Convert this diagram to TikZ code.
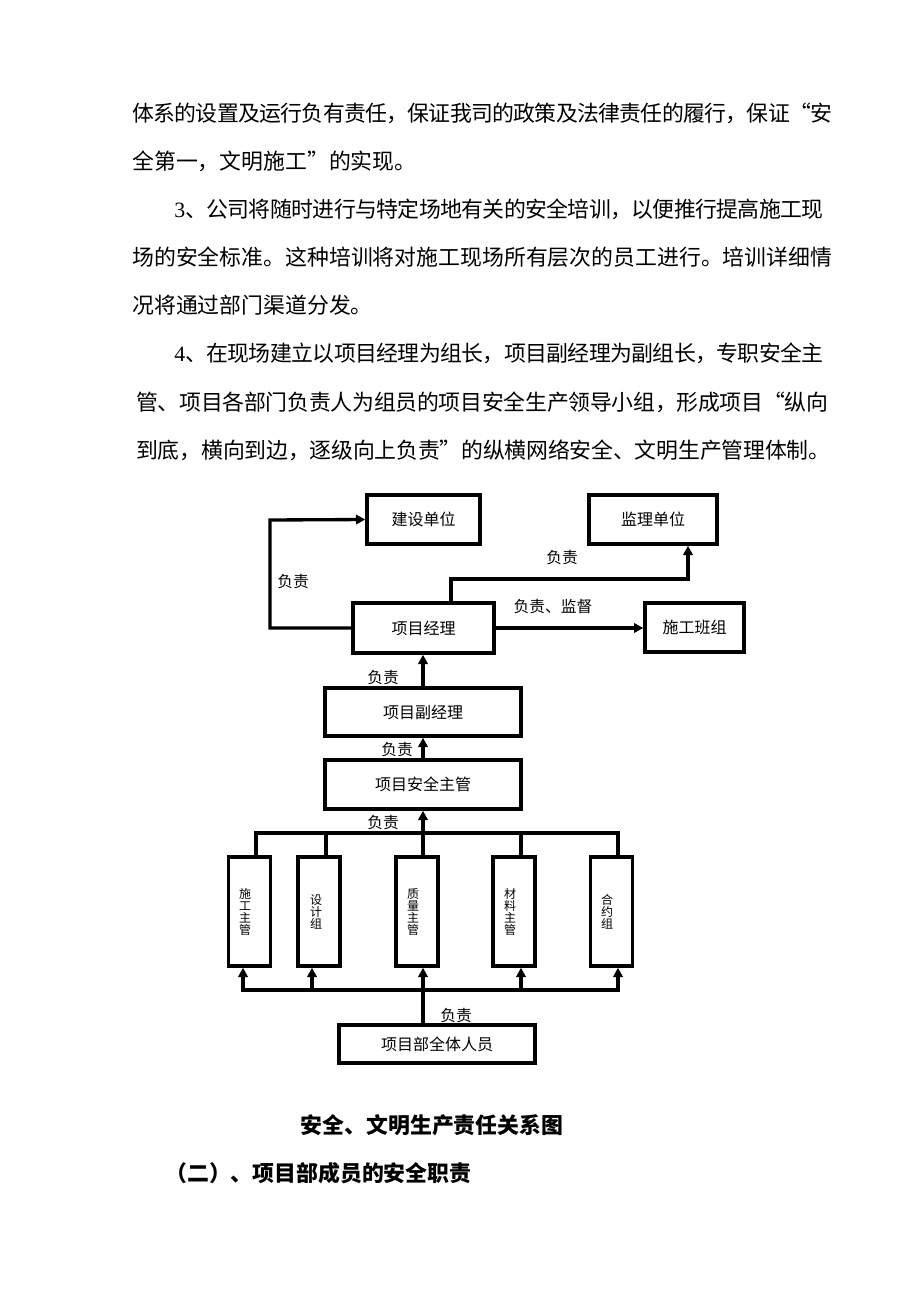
\documentclass[tikz,border=0pt]{standalone}
\usepackage{fontspec}
\setmainfont{Liberation Serif}
\newfontfamily\cjk{Noto Sans CJK SC}
\usetikzlibrary{arrows.meta}
\newcommand\cjkglue{\hskip0pt plus 3pt minus 3pt\relax}
\newcount\cjkcc
\cjkcc="4E00
\loop \XeTeXcharclass\cjkcc=1 \advance\cjkcc by 1 \ifnum\cjkcc<"A000 \repeat
\cjkcc="3000
\loop \XeTeXcharclass\cjkcc=1 \advance\cjkcc by 1 \ifnum\cjkcc<"3040 \repeat
\cjkcc="FF00
\loop \XeTeXcharclass\cjkcc=1 \advance\cjkcc by 1 \ifnum\cjkcc<"FF60 \repeat
\XeTeXcharclass"201C=1
\XeTeXcharclass"201D=1
\XeTeXinterchartokenstate=1
\XeTeXinterchartoks 1 1 {\cjkglue}
\XeTeXinterchartoks 0 1 {\cjkglue}
\XeTeXinterchartoks 1 0 {\cjkglue}
\tikzset{
  txt/.style={anchor=west, inner sep=0pt, font=\cjk\fontsize{16.4}{20}\selectfont},
  ttl/.style={inner sep=0pt, font=\cjk\bfseries\fontsize{16.4}{20}\selectfont},
  box/.style={draw, line width=2.5pt, inner sep=0pt, font=\cjk\fontsize{12}{14}\selectfont},
  vbox/.style={draw, line width=2.5pt, inner sep=0pt, minimum width=31.5pt, minimum height=81.75pt},
  vtxt/.style={inner sep=0pt, align=center, font=\cjk\fontsize{9}{9}\selectfont},
  lbl/.style={inner sep=0pt, font=\cjk\fontsize{11.8}{14}\selectfont},
  ln/.style={line width=2.5pt},
  tip/.tip={Triangle[length=7pt,width=7pt]},
  arr/.style={line width=2.5pt, -tip},
}
\begin{document}
\begin{tikzpicture}[x=0.75pt,y=-0.75pt]
\useasboundingbox (0,0) rectangle (920,1302);
\fill[white] (0,0) rectangle (920,1302);

% body text
\node[txt] (l1) at (132,113) {\makebox[525pt][s]{体系的设置及运行负有责任，保证我司的政策及法律责任的履行，保证“安}};
\node[txt] (l2) at (132,161) {全第一，文明施工”的实现。};
\node[txt] (l3) at (174,209) {\makebox[487pt][s]{{\rmfamily 3}、公司将随时进行与特定场地有关的安全培训，以便推行提高施工现}};
\node[txt] (l4) at (132,257) {\makebox[525pt][s]{场的安全标准。这种培训将对施工现场所有层次的员工进行。培训详细情}};
\node[txt] (l5) at (132,305) {况将通过部门渠道分发。};
\node[txt] (l6) at (174,353) {\makebox[487pt][s]{{\rmfamily 4}、在现场建立以项目经理为组长，项目副经理为副组长，专职安全主}};
\node[txt] (l7) at (136,402) {\makebox[519pt][s]{管、项目各部门负责人为组员的项目安全生产领导小组，形成项目“纵向}};
\node[txt] (l8) at (136,450) {\makebox[520.5pt][s]{到底，横向到边，逐级向上负责”的纵横网络安全、文明生产管理体制。}};

% boxes
\node[box, minimum width=84.75pt, minimum height=36.75pt] (jsdw) at (423.5,519.5) {建设单位};
\node[box, minimum width=96pt, minimum height=36.75pt] (jldw) at (653,519.5) {监理单位};
\node[box, minimum width=105.75pt, minimum height=37.5pt] (xmjl) at (423.5,628) {项目经理};
\node[box, minimum width=74.25pt, minimum height=36.75pt] (sgbz) at (694.5,627.5) {施工班组};
\node[box, minimum width=147pt, minimum height=36pt] (fjl) at (423,712) {项目副经理};
\node[box, minimum width=147pt, minimum height=36.75pt] (aqzg) at (423,784.5) {项目安全主管};
\node[box, minimum width=147pt, minimum height=28.5pt] (qtry) at (437,1044) {项目部全体人员};

\node[vbox] (v1) at (249.5,911.5) {};
\node[vbox] (v2) at (319,911.5) {};
\node[vbox] (v3) at (417,911.5) {};
\node[vbox] (v4) at (514,911.5) {};
\node[vbox] (v5) at (611.5,911.5) {};
\node[vtxt] (t1) at (245,911.5) {施\\工\\主\\管};
\node[vtxt] (t2) at (316,911.5) {设\\计\\组};
\node[vtxt] (t3) at (413,911.5) {质\\量\\主\\管};
\node[vtxt] (t4) at (510,911.5) {材\\料\\主\\管};
\node[vtxt] (t5) at (607,911.5) {合\\约\\组};

% connectors
\coordinate (k1) at (270,520);
\draw[arr] (xmjl.west) -| (k1) -- (jsdw.west);
\coordinate (k2) at (451,579);
\coordinate (k3) at (688,579);
\draw[arr] (k2 |- xmjl.north) -- (k2) -- (k3) -- (k3 |- jldw.south);
\draw[arr] (xmjl.east) -- (xmjl.east -| sgbz.west);
\draw[arr] (fjl.north) -- (fjl.north |- xmjl.south);
\draw[arr] (aqzg.north) -- (fjl.south);

\coordinate (tL) at (256,833);
\coordinate (t2c) at (326,833);
\coordinate (t3c) at (423,833);
\coordinate (t4c) at (521,833);
\coordinate (tR) at (618,833);
\draw[ln] (tL |- v1.north) -- (tL) -- (tR) -- (tR |- v5.north);
\draw[ln] (t2c) -- (t2c |- v2.north);
\draw[ln] (t4c) -- (t4c |- v4.north);
\draw[arr] (t3c |- v3.north) -- (t3c |- aqzg.south);

\coordinate (b1) at (243,990);
\coordinate (b2) at (312,990);
\coordinate (b3) at (423,990);
\coordinate (b4) at (521,990);
\coordinate (b5) at (618,990);
\draw[ln, tip-tip] (b1 |- v1.south) -- (b1) -- (b5) -- (b5 |- v5.south);
\draw[arr] (b2) -- (b2 |- v2.south);
\draw[arr] (b4) -- (b4 |- v4.south);
\draw[arr] (b3 |- qtry.north) -- (b3 |- v3.south);

% labels
\node[lbl] (f1) at (293,582) {负责};
\node[lbl] (f2) at (562,558) {负责};
\node[lbl] (f3) at (553,607) {负责、监督};
\node[lbl] (f4) at (383,678) {负责};
\node[lbl] (f5) at (397,750) {负责};
\node[lbl] (f6) at (383,823) {负责};
\node[lbl] (f7) at (456,1016) {负责};

% captions
\node[ttl] (cap) at (432,1125) {安全、文明生产责任关系图};
\node[ttl, anchor=west] (h2) at (165,1173) {（二）、项目部成员的安全职责};
\end{tikzpicture}
\end{document}
